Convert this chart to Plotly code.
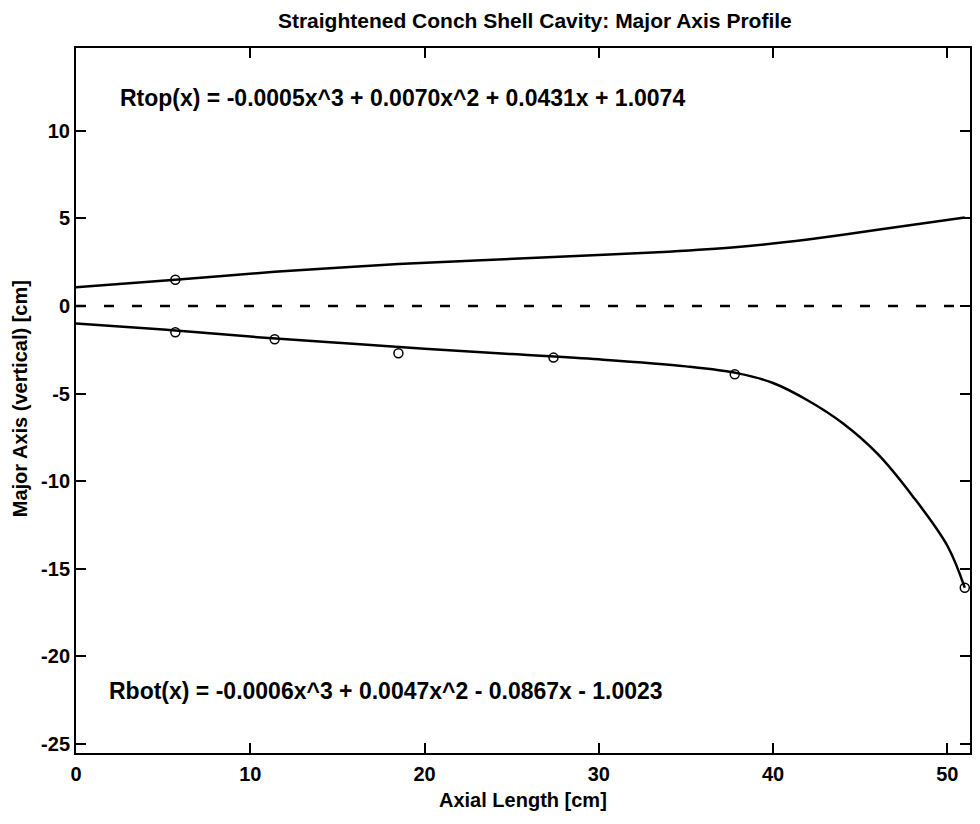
import plotly.graph_objects as go

# Profile curves
top_x = [0, 5.7, 11.4, 18.5, 27.4, 34, 37.8, 42, 46, 51.0]
top_y = [1.07, 1.5, 1.95, 2.4, 2.8, 3.1, 3.35, 3.8, 4.35, 5.05]
bot_x = [0, 5, 10, 15, 20, 25, 30, 35, 38, 40, 42, 44, 46, 48, 50, 51.0]
bot_y = [-1.0, -1.35, -1.75, -2.1, -2.45, -2.75, -3.05, -3.45, -3.85, -4.4, -5.4, -6.7, -8.45, -10.85, -13.7, -16.1]

# Measured points
pt_top_x = [5.7]
pt_top_y = [1.5]
pt_bot_x = [5.7, 11.4, 18.5, 27.4, 37.8, 51.0]
pt_bot_y = [-1.5, -1.9, -2.7, -2.95, -3.9, -16.1]

axis_x = [0, 51.3]
axis_y = [0, 0]

x_ticks = [0, 10, 20, 30, 40, 50]
y_ticks = [10, 5, 0, -5, -10, -15, -20, -25]

title = "Straightened Conch Shell Cavity: Major Axis Profile"
eq_top = "Rtop(x) = -0.0005x^3 + 0.0070x^2 + 0.0431x + 1.0074"
eq_bot = "Rbot(x) = -0.0006x^3 + 0.0047x^2 - 0.0867x - 1.0023"
x_label = "Axial Length [cm]"
y_label = "Major Axis (vertical) [cm]"

FONT = "Liberation Sans"

fig = go.Figure()
fig.add_trace(go.Scatter(x=axis_x, y=axis_y, mode="lines",
                         line=dict(color="black", width=2.5, dash="10px,18px"),
                         showlegend=False, hoverinfo="skip"))
fig.add_trace(go.Scatter(x=top_x, y=top_y, mode="lines", line_shape="spline",
                         line=dict(color="black", width=2.5, smoothing=0.6), showlegend=False))
fig.add_trace(go.Scatter(x=bot_x, y=bot_y, mode="lines", line_shape="spline",
                         line=dict(color="black", width=2.5), showlegend=False))
fig.add_trace(go.Scatter(x=pt_top_x + pt_bot_x, y=pt_top_y + pt_bot_y, mode="markers",
                         marker=dict(symbol="circle-open", size=9, color="black",
                                     line=dict(width=1.5)),
                         showlegend=False))

fig.add_annotation(x=2.4, y=11.9, text="<b>" + eq_top + "</b>", showarrow=False,
                   xanchor="left", yanchor="middle",
                   font=dict(family=FONT, size=23, color="black"))
fig.add_annotation(x=1.8, y=-22.0, text="<b>" + eq_bot + "</b>", showarrow=False,
                   xanchor="left", yanchor="middle",
                   font=dict(family=FONT, size=23, color="black"))
fig.add_annotation(xref="paper", yref="paper", x=0.5, y=-0.067, text="<b>" + x_label + "</b>",
                   showarrow=False, xanchor="center", yanchor="middle",
                   font=dict(family=FONT, size=20, color="black"))
fig.add_annotation(xref="paper", yref="paper", x=-0.0625, y=0.502, text="<b>" + y_label + "</b>",
                   showarrow=False, xanchor="center", yanchor="middle", textangle=-90,
                   font=dict(family=FONT, size=20, color="black"))

axis_common = dict(showline=True, linecolor="black", linewidth=2, mirror="ticks",
                   ticks="inside", ticklen=10, tickwidth=2, tickcolor="black",
                   showgrid=False, zeroline=False,
                   tickfont=dict(family=FONT, size=20, color="black"))

fig.update_layout(
    width=972, height=816,
    paper_bgcolor="white", plot_bgcolor="white",
    margin=dict(l=68, r=8, t=40, b=71),
    title=dict(text="<b>" + title + "</b>", x=0.542, xanchor="center", y=0.985, yanchor="middle",
               font=dict(family=FONT, size=21, color="black")),
    xaxis=dict(range=[0, 51.3], tickvals=x_ticks, ticktext=["<b>%d</b>" % v for v in x_ticks],
               ticklabelstandoff=2, **axis_common),
    yaxis=dict(range=[-25.54, 14.74], tickvals=y_ticks, ticktext=["<b>%d</b>" % v for v in y_ticks],
               ticklabelstandoff=0, **axis_common),
)

fig.write_html("out.html")
